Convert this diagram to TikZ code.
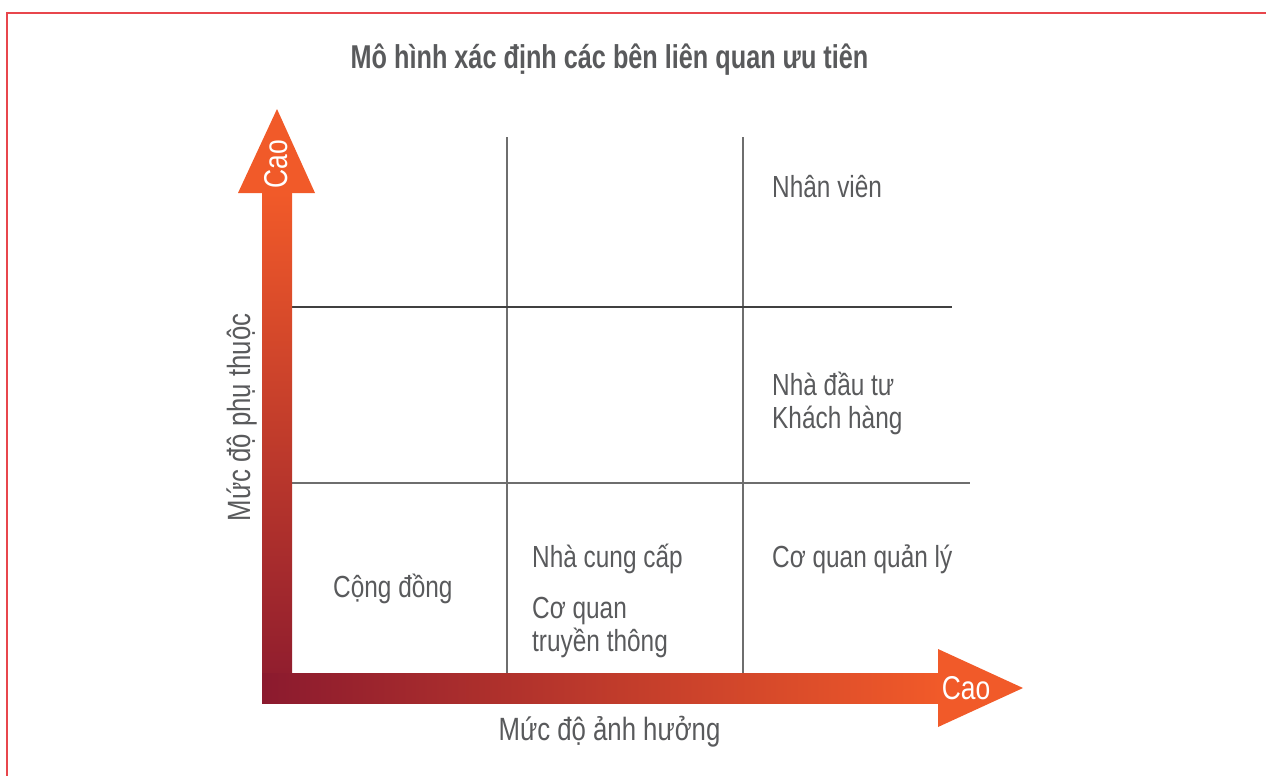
\documentclass[tikz,border=0pt]{standalone}
\usepackage{fontspec}
\setmainfont{Liberation Sans}[FakeStretch=0.8]
\newfontfamily\titlefont{Liberation Sans}[FakeStretch=0.765]
\definecolor{txt}{HTML}{595A5C}
\definecolor{dkred}{HTML}{8B1A2E}
\definecolor{midred}{HTML}{D24A2D}
\definecolor{orng}{HTML}{F15A29}
\definecolor{frame}{HTML}{E8464C}
\definecolor{gridc}{HTML}{6E6E6E}
\tikzset{
  lbl/.style={inner sep=0pt, text=txt, font=\fontsize{30.5}{33}\selectfont, anchor=base west},
  axlbl/.style={inner sep=0pt, text=txt, font=\fontsize{32.2}{36}\selectfont, anchor=base},
  caolbl/.style={inner sep=0pt, text=white, font=\fontsize{33}{36}\selectfont, anchor=base},
  gridline/.style={draw=gridc, line width=1.3pt}
}
\begin{document}
\begin{tikzpicture}[x=1pt,y=-1pt]
\useasboundingbox (0,0) rectangle (1266,776);
% frame
\draw[frame, line width=1.6pt] (7,780) -- (7,13) -- (1270,13);
% title
\node[inner sep=0pt, text=txt, anchor=base, font=\titlefont\bfseries\fontsize{33}{36}\selectfont] (title) at (609.5,69) {Mô hình xác định các bên liên quan ưu tiên};
% grid
\coordinate (v1t) at (507,137); \coordinate (v1b) at (507,673);
\coordinate (v2t) at (743,137); \coordinate (v2b) at (743,673);
\coordinate (h1l) at (292,307); \coordinate (h1r) at (952,307);
\coordinate (h2l) at (292,483); \coordinate (h2r) at (970,483);
\draw[gridline] (v1t) -- (v1b);
\draw[gridline] (v2t) -- (v2b);
\draw[gridline, draw=black!75] (h1l) -- (h1r);
\draw[gridline] (h2l) -- (h2r);
% vertical arrow
\shade[top color=orng, middle color=midred, bottom color=dkred] (262,193) rectangle (292,703);
\fill[orng] (238,193) -- (277,109) -- (315,193) -- cycle;
% horizontal arrow
\shade[left color=dkred, middle color=midred, right color=orng] (262,673) rectangle (940,703);
\fill[orng] (938,649) -- (1023,688) -- (938,727) -- cycle;
% Cao labels
\node[caolbl, rotate=90] (caoy) at (287,164) {Cao};
\node[caolbl] (caox) at (966,699) {Cao};
% axis labels
\node[axlbl, rotate=90] (ylab) at (250,417.5) {Mức độ phụ thuộc};
\node[axlbl] (xlab) at (609.5,740) {Mức độ ảnh hưởng};
% cell labels
\node[lbl] (nv) at (772,197) {Nhân viên};
\node[lbl] (ndt) at (772,395) {Nhà đầu tư};
\node[lbl] (kh) at (772,428) {Khách hàng};
\node[lbl] (cqql) at (772,567) {Cơ quan quản lý};
\node[lbl] (ncc) at (532,567) {Nhà cung cấp};
\node[lbl] (cq) at (532,618) {Cơ quan};
\node[lbl] (tt) at (532,651) {truyền thông};
\node[lbl] (cd) at (333,597) {Cộng đồng};
\end{tikzpicture}
\end{document}
